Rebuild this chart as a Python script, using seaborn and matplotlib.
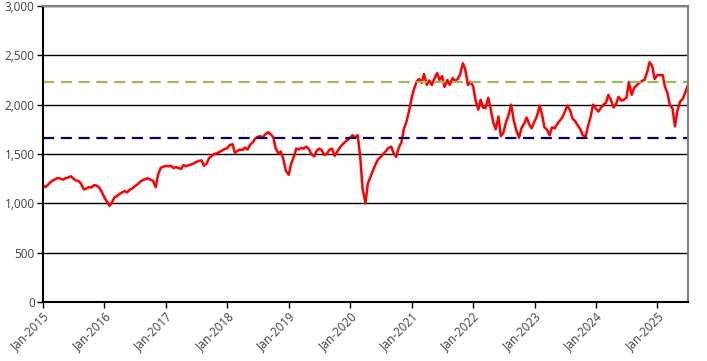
import pandas as pd
import matplotlib.pyplot as plt
import matplotlib.dates as mdates
from matplotlib.ticker import FuncFormatter, MultipleLocator
import seaborn as sns

# semi-monthly readings (1st and 15th of each month)
y2015 = [1180, 1165, 1190, 1215, 1232, 1245, 1258, 1250, 1240, 1255, 1262, 1275,
         1250, 1232, 1225, 1200, 1140, 1150, 1165, 1160, 1185, 1180, 1160, 1120]
y2016 = [1060, 1020, 975, 1010, 1060, 1075, 1095, 1110, 1125, 1110, 1140, 1150,
         1175, 1190, 1220, 1235, 1245, 1255, 1240, 1230, 1165, 1290, 1360, 1370]
y2017 = [1380, 1375, 1380, 1357, 1368, 1360, 1348, 1388, 1375, 1385, 1395, 1405,
         1420, 1430, 1435, 1380, 1405, 1460, 1480, 1500, 1507, 1520, 1535, 1550]
y2018 = [1560, 1590, 1600, 1510, 1530, 1545, 1540, 1565, 1545, 1590, 1620, 1655,
         1675, 1680, 1670, 1700, 1720, 1700, 1670, 1560, 1505, 1525, 1440, 1330]
y2019 = [1290, 1400, 1475, 1555, 1545, 1560, 1555, 1575, 1550, 1500, 1475, 1530,
         1555, 1540, 1490, 1500, 1545, 1555, 1480, 1520, 1565, 1595, 1620, 1640]
y2020 = [1665, 1690, 1670, 1690, 1470, 1150, 1000, 1200, 1270, 1330, 1400, 1445,
         1470, 1500, 1530, 1560, 1575, 1510, 1470, 1560, 1620, 1750, 1830, 1925]
y2021 = [2070, 2160, 2240, 2260, 2220, 2310, 2200, 2245, 2200, 2260, 2320, 2250,
         2290, 2180, 2250, 2200, 2270, 2240, 2260, 2300, 2420, 2360, 2200, 2230]
y2022 = [2190, 2050, 1950, 2050, 1970, 1965, 2070, 1960, 1820, 1750, 1880, 1680,
         1720, 1820, 1900, 2000, 1830, 1740, 1665, 1760, 1810, 1870, 1800, 1760]
y2023 = [1830, 1880, 1990, 1900, 1770, 1750, 1690, 1770, 1760, 1800, 1840, 1870,
         1930, 1990, 1940, 1860, 1830, 1790, 1750, 1690, 1680, 1780, 1880, 2000]
y2024 = [1960, 1930, 1970, 2000, 2020, 2100, 2040, 1970, 2010, 2080, 2040, 2050,
         2070, 2230, 2100, 2170, 2200, 2220, 2240, 2250, 2330, 2430, 2390, 2260]
y2025 = [2300, 2300, 2300, 2180, 2120, 2000, 1960, 1780, 1950, 2030, 2060, 2120, 2200]

upper_level = 2225   # green dashed line
lower_level = 1665   # navy dashed line

values = y2015 + y2016 + y2017 + y2018 + y2019 + y2020 + y2021 + y2022 + y2023 + y2024 + y2025
dates = pd.date_range("2015-01-01", periods=len(values), freq="SMS")
df = pd.DataFrame({"date": dates, "value": values})

sns.set_theme(style="white")
plt.rcParams["font.family"] = ["Open Sans", "DejaVu Sans"]

fig = plt.figure(figsize=(7.07, 3.61), dpi=100)
ax = fig.add_axes([0.0608, 0.1634, 0.9122, 0.82])

sns.lineplot(data=df, x="date", y="value", color="#ff0000", linewidth=1.8, ax=ax)
ax.axhline(upper_level, color="#9bbb59", linestyle=(0, (5, 3)), linewidth=1.6)
ax.axhline(lower_level, color="#000066", linestyle=(0, (5, 3)), linewidth=1.6)

ax.set_ylim(0, 3000)
ax.set_xlim(pd.Timestamp("2015-01-01"), dates[-1])
ax.yaxis.set_major_locator(MultipleLocator(500))
ax.yaxis.set_major_formatter(FuncFormatter(lambda v, p: f"{int(v):,}"))
ax.xaxis.set_major_locator(mdates.YearLocator())
ax.xaxis.set_major_formatter(mdates.DateFormatter("%b-%Y"))

ax.grid(axis="y", color="black", linewidth=1)
ax.set_axisbelow(True)
ax.set_xlabel("")
ax.set_ylabel("")

for s in ["left", "bottom"]:
    ax.spines[s].set_color("black")
    ax.spines[s].set_linewidth(1.5)
for s in ["top", "right"]:
    ax.spines[s].set_color("#808080")
    ax.spines[s].set_linewidth(1.5)

ax.tick_params(axis="both", which="major", length=4, width=1, color="black",
               labelsize=8.5, labelcolor="#404040", pad=2, left=True, bottom=True)
for lbl in ax.get_xticklabels():
    lbl.set_rotation(45)
    lbl.set_ha("right")
    lbl.set_va("top")
    lbl.set_rotation_mode("anchor")

plt.savefig("out.png", dpi=100)
